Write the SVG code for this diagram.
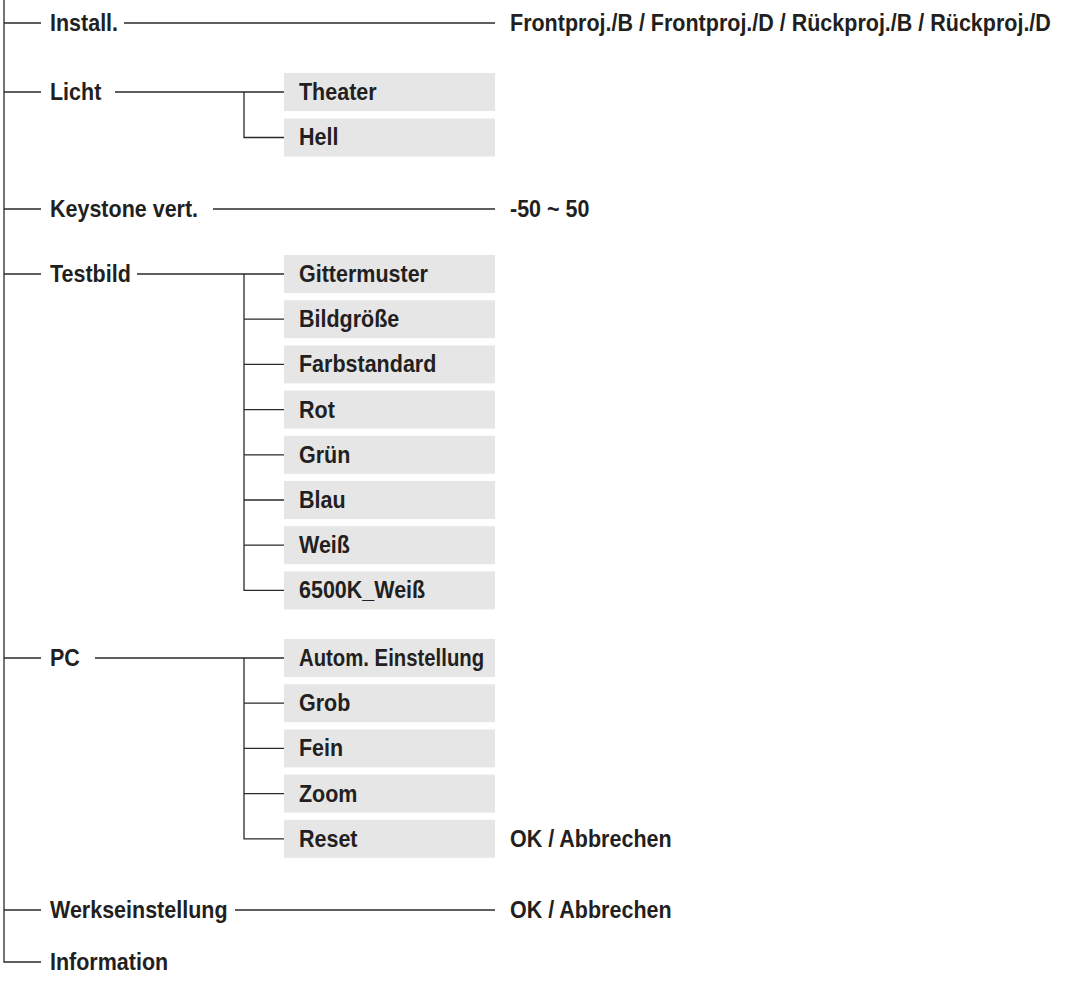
<svg xmlns="http://www.w3.org/2000/svg" width="1066" height="986" viewBox="0 0 1066 986">
<style>
.t{font-family:'Liberation Sans',Arial,Helvetica,sans-serif;font-weight:bold;font-size:23px;fill:#231f20;transform-box:fill-box;transform-origin:0 0;transform:scaleX(0.935)}
.b{fill:#e6e6e6}
.c{stroke:#2a2a2a;stroke-width:1.3;fill:none}
</style>
<rect width="1066" height="986" fill="#ffffff"/>
<g id="connectors" class="c">
<path d="M4 0V962H41"/>
<path d="M4 23H41M4 92H41M4 209H41M4 274H41M4 658H41M4 910H41"/>
<path d="M124 23H495"/>
<path d="M115 92H284M244 92V137.5H284"/>
<path d="M213 209H495"/>
<path d="M137 274H284M244 274V590.4H284M244 319.2H284M244 364.4H284M244 409.6H284M244 454.8H284M244 500H284M244 545.2H284"/>
<path d="M95 658H284M244 658V838.8H284M244 703.2H284M244 748.4H284M244 793.6H284"/>
<path d="M235 910H495"/>
</g>
<g id="install"><text class="t" x="50" y="31">Install.</text></g>
<g id="install-values"><text class="t" x="510" y="31">Frontproj./B / Frontproj./D / Rückproj./B / Rückproj./D</text></g>
<g id="licht"><text class="t" x="50" y="100">Licht</text></g>
<g id="theater"><rect class="b" x="284" y="73" width="211" height="38"/><text class="t" x="299" y="100">Theater</text></g>
<g id="hell"><rect class="b" x="284" y="118.5" width="211" height="38"/><text class="t" x="299" y="145.5">Hell</text></g>
<g id="keystone"><text class="t" x="50" y="217">Keystone vert.</text></g>
<g id="keystone-values"><text class="t" x="510" y="217">-50 ~ 50</text></g>
<g id="testbild"><text class="t" x="50" y="282">Testbild</text></g>
<g id="gittermuster"><rect class="b" x="284" y="255" width="211" height="38"/><text class="t" x="299" y="282">Gittermuster</text></g>
<g id="bildgroesse"><rect class="b" x="284" y="300.2" width="211" height="38"/><text class="t" x="299" y="327.2">Bildgröße</text></g>
<g id="farbstandard"><rect class="b" x="284" y="345.4" width="211" height="38"/><text class="t" x="299" y="372.4">Farbstandard</text></g>
<g id="rot"><rect class="b" x="284" y="390.6" width="211" height="38"/><text class="t" x="299" y="417.6">Rot</text></g>
<g id="gruen"><rect class="b" x="284" y="435.8" width="211" height="38"/><text class="t" x="299" y="462.8">Grün</text></g>
<g id="blau"><rect class="b" x="284" y="481" width="211" height="38"/><text class="t" x="299" y="508">Blau</text></g>
<g id="weiss"><rect class="b" x="284" y="526.2" width="211" height="38"/><text class="t" x="299" y="553.2">Weiß</text></g>
<g id="weiss6500"><rect class="b" x="284" y="571.4" width="211" height="38"/><text class="t" x="299" y="598.4">6500K_Weiß</text></g>
<g id="pc"><text class="t" x="50" y="666">PC</text></g>
<g id="autom"><rect class="b" x="284" y="639" width="211" height="38"/><text class="t" x="299" y="666" textLength="198" lengthAdjust="spacingAndGlyphs">Autom. Einstellung</text></g>
<g id="grob"><rect class="b" x="284" y="684.2" width="211" height="38"/><text class="t" x="299" y="711.2">Grob</text></g>
<g id="fein"><rect class="b" x="284" y="729.4" width="211" height="38"/><text class="t" x="299" y="756.4">Fein</text></g>
<g id="zoom"><rect class="b" x="284" y="774.6" width="211" height="38"/><text class="t" x="299" y="801.6">Zoom</text></g>
<g id="reset"><rect class="b" x="284" y="819.8" width="211" height="38"/><text class="t" x="299" y="846.8">Reset</text></g>
<g id="reset-values"><text class="t" x="510" y="846.8">OK / Abbrechen</text></g>
<g id="werkseinstellung"><text class="t" x="50" y="918">Werkseinstellung</text></g>
<g id="werkseinstellung-values"><text class="t" x="510" y="918">OK / Abbrechen</text></g>
<g id="information"><text class="t" x="50" y="970">Information</text></g>
</svg>
